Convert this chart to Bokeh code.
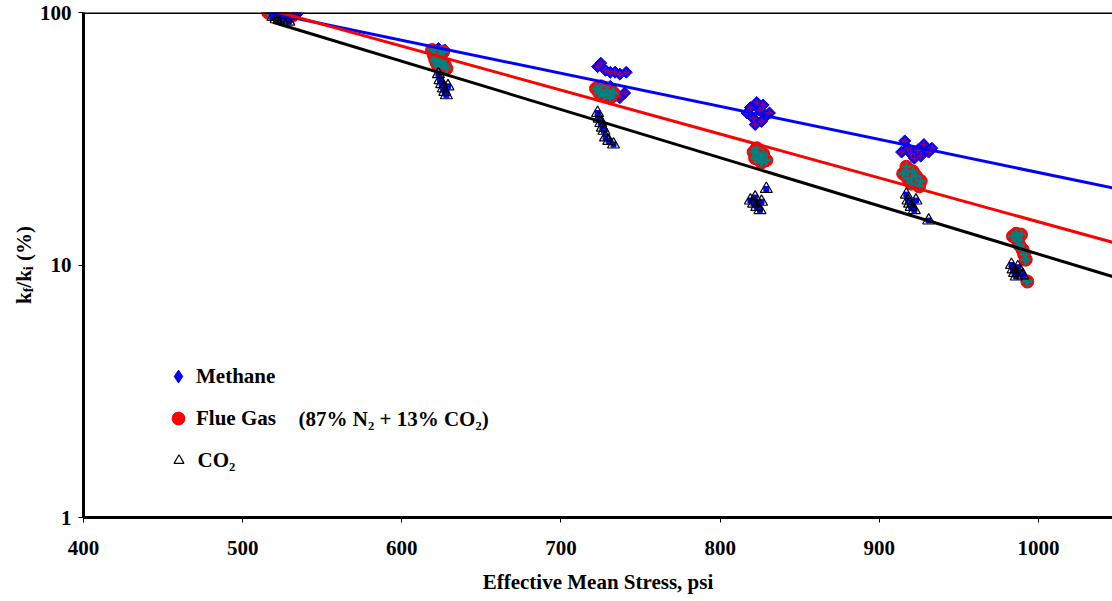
import math
from bokeh.plotting import figure
from bokeh.layouts import row
from bokeh.models import Range1d, FixedTicker, Span, Label, Legend, LegendItem, PrintfTickFormatter, Div
from bokeh.embed import file_html
from bokeh.resources import INLINE

# ---------------- data ----------------
x_ticks = [400, 500, 600, 700, 800, 900, 1000]
y_ticks = [1, 10, 100]

methane_x = [516, 519, 522, 525, 528, 531, 535,
             623, 625, 627,
             723, 725, 728, 731, 734, 737, 741, 731, 733, 735, 737, 740,
             817, 819, 821, 823, 825, 827, 829, 831, 822, 826,
             914, 916, 918, 920, 922, 924, 926, 928, 931, 933]
methane_y = [100, 100, 99, 100, 98, 100, 100,
             72, 70, 71,
             61, 63, 59, 58, 58, 57, 58, 51, 49, 47, 46, 48,
             40, 42, 38, 44, 41, 43, 39, 40, 36, 37,
             28, 31, 29, 27.5, 26.5, 28.5, 27, 30, 28, 29]

flue_x = [516, 519, 522, 525, 528, 531,
          619, 620, 621, 622, 623, 624, 625, 627, 628, 626,
          722, 724, 725, 727, 729, 731, 733,
          821, 822, 823, 824, 826, 827, 829,
          915, 917, 918, 920, 921, 923, 925, 926,
          984, 986, 987, 988, 989, 990, 991, 992, 993]
flue_y = [100, 99, 100, 98, 99, 97,
          71, 68, 65, 63, 61, 67, 64, 62, 60, 70,
          50, 48, 51, 47, 49, 46, 48,
          28, 26.5, 29, 27, 25.5, 27.5, 26,
          23, 24.5, 22, 21, 23.5, 22.5, 20.5, 21.5,
          13, 13.3, 12.5, 12, 13.2, 11.5, 11, 10.5, 8.6]

co2_x = [519, 521, 523, 525, 527, 529, 533,
         623, 624, 625, 626, 627, 628, 629,
         723, 724, 725, 726, 727, 728, 730, 733,
         819, 821, 822, 823, 825, 826, 829,
         917, 918, 919, 920, 922, 923, 931,
         983, 984, 985, 986, 987, 989, 990]
co2_y = [96, 94, 98, 93, 95, 92, 97,
         57, 54, 52, 50, 48.5, 47, 51,
         40, 38, 36.5, 35, 34, 32, 31, 30,
         18, 17.5, 18.5, 17, 16.5, 17.8, 20,
         19, 18, 17.5, 17, 16.5, 18, 15,
         10, 9.6, 9.3, 9, 9.8, 9.4, 9.1]

# exponential trend lines (straight on the log axis): start / end
methane_trend_x = [516, 1046.5]
methane_trend_y = [100.0, 20.2]
flue_trend_x = [516, 1046.5]
flue_trend_y = [103.0, 12.3]
co2_trend_x = [519, 1046.5]
co2_trend_y = [91.5, 9.0]

legend_labels = ["Methane", "Flue Gas", "CO\u2082"]
flue_note = "(87% N\u2082 + 13% CO\u2082)"
x_title = "Effective Mean Stress, psi"

FONT = "Liberation Serif"
FS = "21px"

# ---------------- y axis title (HTML, with true subscripts) ----------------
y_title_html = (
    '<div style="position:relative;width:36px;height:601px;">'
    '<div style="position:absolute;left:12px;top:226px;writing-mode:vertical-rl;'
    'transform:rotate(180deg);font-family:\'Liberation Serif\';font-weight:bold;'
    'font-size:21px;line-height:24px;white-space:nowrap;color:black;">'
    'k<sub style="font-size:14px;">f</sub>/k<sub style="font-size:14px;">i</sub> (%)'
    '</div></div>'
)
y_title = Div(text=y_title_html, width=36, height=601, margin=0)

# ---------------- figure ----------------
p = figure(width=1076, height=601,
           x_range=Range1d(400, 1046.5), y_range=Range1d(1, 100),
           y_axis_type="log", output_backend="svg", toolbar_location=None,
           min_border_left=46, min_border_right=0, min_border_top=12,
           min_border_bottom=84, margin=0)
p.outline_line_color = None
p.grid.visible = False
p.background_fill_color = "white"
p.border_fill_color = "white"

for ax in (p.xaxis[0], p.yaxis[0]):
    ax.axis_line_width = 3
    ax.axis_line_color = "black"
    ax.major_tick_line_width = 1
    ax.major_tick_line_color = "black"
    ax.major_tick_out = 5
    ax.major_tick_in = 0
    ax.minor_tick_line_color = None
    ax.major_label_text_font = FONT
    ax.major_label_text_font_style = "bold"
    ax.major_label_text_font_size = FS
    ax.major_label_text_color = "black"

p.xaxis.ticker = FixedTicker(ticks=x_ticks, minor_ticks=[])
p.yaxis.ticker = FixedTicker(ticks=y_ticks, minor_ticks=[])
p.yaxis.formatter = PrintfTickFormatter(format="%d")
p.xaxis.major_label_standoff = 18
p.yaxis.major_label_standoff = 7
p.xaxis.axis_label = x_title
p.xaxis.axis_label_text_font = FONT
p.xaxis.axis_label_text_font_style = "bold"
p.xaxis.axis_label_text_font_size = FS
p.xaxis.axis_label_text_color = "black"
p.xaxis.axis_label_standoff = 12

p.add_layout(Span(location=100, dimension="width", line_color="black", line_width=3))

# ---------------- markers ----------------
r_meth = p.scatter(methane_x, methane_y, marker="square", angle=math.pi / 4, size=8.5,
                   fill_color="#0000ff", line_color="#0000ff", line_width=1)
p.scatter(methane_x, methane_y, marker="cross", size=7, line_color="#800080", line_width=2)

r_flue = p.scatter(flue_x, flue_y, marker="circle", size=13,
                   fill_color="#ff0000", line_color="#ff0000")
p.scatter(flue_x, flue_y, marker="cross", size=10, line_color="#008080", line_width=3)

p.scatter(co2_x, co2_y, marker="square", size=5, fill_color="#0000ff", line_color="#0000ff")
r_co2 = p.scatter(co2_x, co2_y, marker="triangle", size=12,
                  fill_color=None, line_color="black", line_width=1.2)

# legend-only swatch for methane (solid blue diamond), not drawn in the plot
r_meth_key = p.scatter(methane_x, methane_y, marker="diamond", fill_color="#0000ff",
                       line_color="#0000ff", visible=False)

# ---------------- trend lines ----------------
p.line(methane_trend_x, methane_trend_y, line_color="#0000ff", line_width=3)
p.line(flue_trend_x, flue_trend_y, line_color="#ff0000", line_width=3)
p.line(co2_trend_x, co2_trend_y, line_color="black", line_width=3)

# ---------------- legend (one block per entry, sized like the source) ----------------
def add_legend(label, rend, gw, standoff, loc):
    leg = Legend(items=[LegendItem(label=label, renderers=[rend])], location=loc,
                 glyph_width=gw, glyph_height=32, label_height=32,
                 label_standoff=standoff, padding=0, margin=0, spacing=0,
                 border_line_color=None, background_fill_alpha=0,
                 label_text_font=FONT, label_text_font_style="bold",
                 label_text_font_size=FS, label_text_color="black")
    p.add_layout(leg)

add_legend(legend_labels[0], r_meth_key, 32, 2, (79, 125))
add_legend(legend_labels[1], r_flue, 32, 2, (79, 83))
add_legend(legend_labels[2], r_co2, 25, 7, (82.5, 41))

p.add_layout(Label(x=215, y=99, x_units="screen", y_units="screen", text=flue_note,
                   text_font=FONT, text_font_style="bold", text_font_size=FS,
                   text_baseline="middle", text_color="black"))

layout = row(y_title, p, spacing=0, margin=0)
open("out.html", "w").write(file_html(layout, INLINE))
